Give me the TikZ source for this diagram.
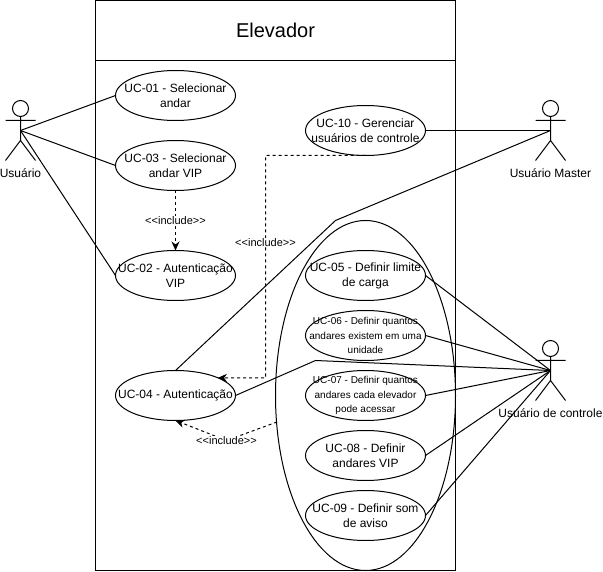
\documentclass[tikz,border=0pt]{standalone}
\usepackage{fontspec}
\setmainfont{Liberation Sans}
\usetikzlibrary{arrows.meta,shapes.geometric}
\newcommand{\inctext}{{<}{<}include{>}{>}}
\tikzset{
  x=1pt,y=-1pt,
  uc/.style={draw,ellipse,fill=white,minimum width=120pt,minimum height=50pt,inner sep=0pt,outer sep=0pt},
  uctext/.style={align=center,inner sep=0pt,font=\fontsize{12}{15}\selectfont},
  ucsmall/.style={align=center,inner sep=0pt,font=\fontsize{10}{14.7}\selectfont},
  actorlabel/.style={inner sep=0pt,font=\fontsize{12}{15}\selectfont},
  inc/.style={fill=white,inner sep=0.5pt,font=\fontsize{11}{13}\selectfont},
  dep/.style={dash pattern=on 3pt off 3pt,-{Stealth[length=9pt,width=8pt]}},
  pics/actor/.style={code={
    \draw (0,-22) circle (8pt);
    \draw (0,-14) -- (0,10) (-15,-10) -- (15,-10) (-15,30) -- (0,10) -- (15,30);
  }}
}
\begin{document}
\begin{tikzpicture}[line width=1pt]
\useasboundingbox (0,0) rectangle (603,572);
\node[draw,minimum width=360pt,minimum height=570pt,inner sep=0pt,outer sep=0pt,anchor=north west] (sys) at (95.5,0.5) {};
\node[draw,minimum width=360pt,minimum height=60pt,inner sep=0pt,outer sep=0pt,anchor=north west,font=\fontsize{20}{24}\selectfont] (title) at (95.5,0.5) {Elevador};
\node[draw,ellipse,minimum width=180pt,minimum height=350pt,inner sep=0pt,outer sep=0pt] (group) at (365.5,395.5) {};

\coordinate (usuario) at (20.5,130.5);
\coordinate (master) at (550.5,130.5);
\coordinate (controle) at (550.5,370.5);
\coordinate (bendA) at (335.5,220.5);
\coordinate (bendB) at (315.5,360.5);
\coordinate (cornerA) at (265.5,155.5);
\coordinate (cornerB) at (265.5,378);
\coordinate (groupL) at (277,422);
\coordinate (bendC) at (226.5,440.5);

\pic at (usuario) {actor};
\pic at (master) {actor};
\pic at (controle) {actor};
\node[actorlabel] (lu) at (20.5,173) {Usuário};
\node[actorlabel] (lm) at (550.5,173) {Usuário Master};
\node[actorlabel] (lc) at (550.5,413) {Usuário de controle};

\node[uc,label={[uctext]center:{UC-01 - Selecionar\\andar}}] (uc01) at (175.5,95.5) {};
\node[uc,label={[uctext]center:{UC-03 - Selecionar\\andar VIP}}] (uc03) at (175.5,165.5) {};
\node[uc,label={[uctext]center:{UC-02 - Autenticação\\VIP}}] (uc02) at (175.5,275.5) {};
\node[uc,label={[uctext]center:{UC-04 - Autenticação}}] (uc04) at (175.5,395.5) {};
\node[uc,label={[uctext]center:{UC-10 - Gerenciar\\usuários de controle}}] (uc10) at (365.5,130.5) {};
\node[uc,label={[uctext]center:{UC-05 - Definir limite\\de carga}}] (uc05) at (365.5,275.5) {};
\node[uc,label={[ucsmall]center:{UC-06 - Definir quantos\\andares existem em uma\\unidade}}] (uc06) at (365.5,335.5) {};
\node[uc,label={[ucsmall]center:{UC-07 - Definir quantos\\andares cada elevador\\pode acessar}}] (uc07) at (365.5,395.5) {};
\node[uc,label={[uctext]center:{UC-08 - Definir\\andares VIP}}] (uc08) at (365.5,455.5) {};
\node[uc,label={[uctext]center:{UC-09 - Definir som\\de aviso}}] (uc09) at (365.5,515.5) {};

\draw (usuario) -- (uc01.west);
\draw (usuario) -- (uc03.west);
\draw (usuario) -- (uc02.west);
\draw (uc10.east) -- (master);
\draw (uc04.north) -- (bendA) -- (master);
\draw (uc04.east) -- (bendB) -- (controle);
\draw (uc05.east) -- (controle);
\draw (uc06.east) -- (controle);
\draw (uc07.east) -- (controle);
\draw (uc08.east) -- (controle);
\draw (uc09.east) -- (controle);

\draw[dep] (uc03.south) -- (uc02.north) node[inc,pos=0.5] (i1) {\inctext};
\draw[dep] (uc10.south) -- (cornerA) -- (cornerB) node[inc,pos=0.39] (i2) {\inctext} -- (uc04.north east);
\draw[dep] (groupL) -- (bendC) node[inc,pos=1] (i3) {\inctext} -- (uc04.south);
\end{tikzpicture}
\end{document}
